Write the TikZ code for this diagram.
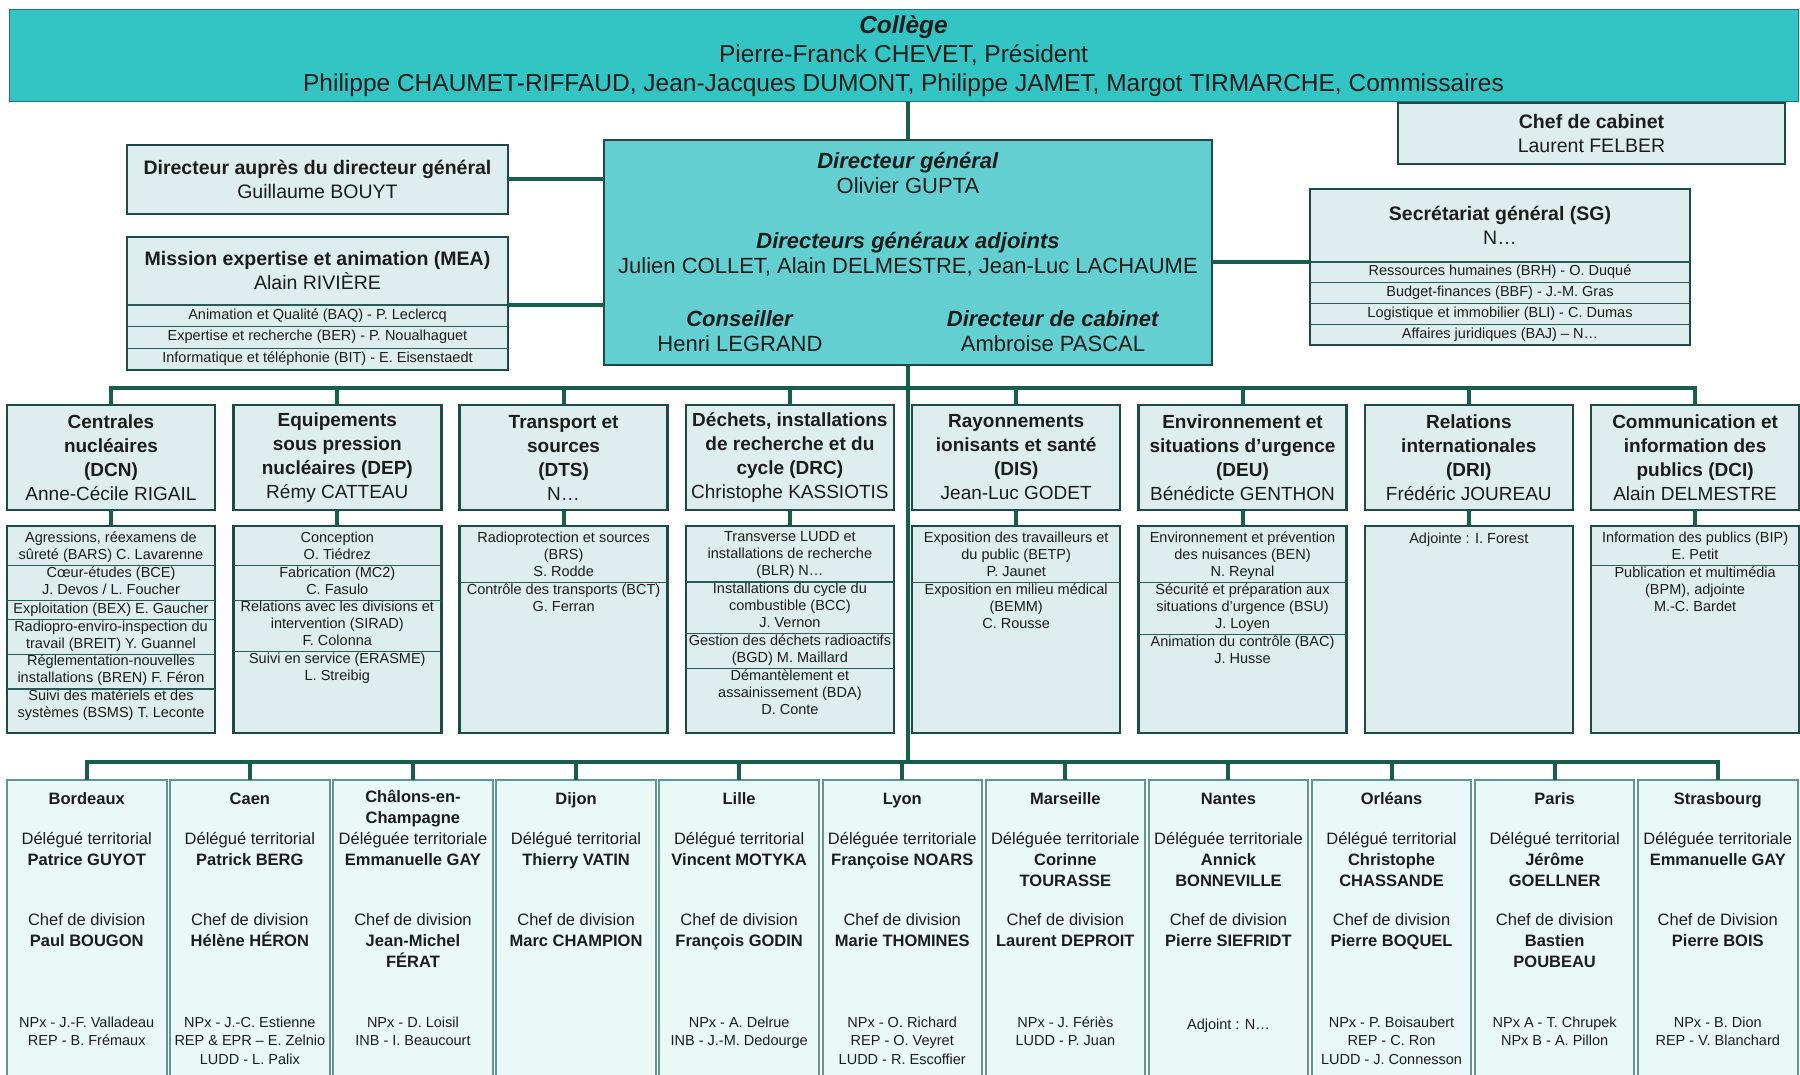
\documentclass[tikz,border=0pt]{standalone}
\usepackage{fontspec}
\setmainfont{Liberation Sans}
\usetikzlibrary{positioning,fit}

\definecolor{collegefill}{RGB}{51,197,196}
\definecolor{collegeedge}{RGB}{30,120,118}
\definecolor{dgfill}{RGB}{100,207,208}
\definecolor{boxfill}{RGB}{222,237,237}
\definecolor{boxedge}{RGB}{30,74,72}
\definecolor{rowrule}{RGB}{40,90,86}
\definecolor{linkgreen}{RGB}{24,94,78}
\definecolor{townfill}{RGB}{234,248,248}
\definecolor{townedge}{RGB}{96,150,148}
\definecolor{ink}{RGB}{28,28,28}

\begin{document}
\begin{tikzpicture}[
	x = 1pt, y = -1pt, % picture coordinates in pixels of the chart
	conn/.style={draw=linkgreen, line width=4pt},
	box/.style={draw=boxedge, line width=2.5pt, fill=boxfill, anchor=north west, inner sep=0pt, outer sep=0pt, align=center, text=ink},
	mid/.style={font=\fontsize{19.5}{24}\selectfont},
	dgtext/.style={align=center, inner sep=0pt, text=ink, font=\fontsize{22}{25.5}\selectfont, execute at begin node=\strut},
	strip/.style={box, draw=rowrule, line width=1.2pt, font=\fontsize{14.5}{17}\selectfont, execute at begin node=\strut},
	frame/.style={draw=boxedge, line width=2.5pt, inner sep=0pt},
	head/.style={box, minimum width=208, minimum height=105, font=\bfseries\fontsize{19}{24}\selectfont},
	list/.style={box, minimum width=208, minimum height=207},
	row/.style={minimum width=208, inner xsep=0pt, inner ysep=1pt, outer sep=0pt, align=center, text=ink, font=\fontsize{14.5}{17}\selectfont, execute at begin node=\strut, execute at end node=\strut},
	cut/.style={append after command={(\tikzlastnode.south west) edge[draw=rowrule, line width=1.2pt] (\tikzlastnode.south east)}},
	town/.style={draw=townedge, line width=2pt, fill=townfill, anchor=north west, inner sep=0pt, outer sep=0pt, minimum width=159.5, minimum height=320},
	tline/.style={align=center, inner sep=0pt, text=ink, font=\fontsize{16.5}{21}\selectfont, execute at begin node=\strut},
	tnote/.style={tline, font=\fontsize{14.5}{18.5}\selectfont},
	]

	\useasboundingbox (0,0) rectangle (1800,1075);
	\fill[white] (0,0) rectangle (1800,1075);

	% College and direction
	\node[box, fill=collegefill, draw=collegeedge, line width=1pt, minimum width=1789, minimum height=92, font=\fontsize{24.5}{29}\selectfont] (college) at (9,10)
		{\textbf{\textit{Collège}}\\Pierre-Franck CHEVET, Président\\Philippe CHAUMET-RIFFAUD, Jean-Jacques DUMONT, Philippe JAMET, Margot TIRMARCHE, Commissaires};
	\node[box, mid, minimum width=387, minimum height=61] (cab) at (1398,103) {\textbf{Chef de cabinet}\\Laurent FELBER};
	\node[box, fill=dgfill, minimum width=608, minimum height=225] (dg) at (604,140) {};
	\node[dgtext, below=12pt of dg.north] (dgnames) {\textbf{\textit{Directeur général}}\\Olivier GUPTA\\[29pt]\textbf{\textit{Directeurs généraux adjoints}}\\Julien COLLET, Alain DELMESTRE, Jean-Luc LACHAUME};
	\node[dgtext, anchor=north] (cons) at (740,310) {\textbf{\textit{Conseiller}}\\Henri LEGRAND};
	\node[dgtext, anchor=north] (dircab) at (1053,310) {\textbf{\textit{Directeur de cabinet}}\\Ambroise PASCAL};

	% Boxes beside the direction
	\node[box, mid, minimum width=381, minimum height=69] (dad) at (127,145) {\textbf{Directeur auprès du directeur général}\\Guillaume BOUYT};
	\node[box, mid, minimum width=381, minimum height=68] (mea) at (127,237) {\textbf{Mission expertise et animation (MEA)}\\Alain RIVIÈRE};
	\node[strip, minimum width=381, minimum height=21.7, below=0pt of mea] (mea1) {Animation et Qualité (BAQ) - P. Leclercq};
	\node[strip, minimum width=381, minimum height=21.7, below=0pt of mea1] (mea2) {Expertise et recherche (BER) - P. Noualhaguet};
	\node[strip, minimum width=381, minimum height=21.7, below=0pt of mea2] (mea3) {Informatique et téléphonie (BIT) - E. Eisenstaedt};
	\node[frame, fit=(mea)(mea3)] (meaframe) {};

	\node[box, mid, minimum width=380, minimum height=73] (sg) at (1310,189) {\textbf{Secrétariat général (SG)}\\N…};
	\node[strip, minimum width=380, minimum height=20.75, below=0pt of sg] (sg1) {Ressources humaines (BRH) - O. Duqué};
	\node[strip, minimum width=380, minimum height=20.75, below=0pt of sg1] (sg2) {Budget-finances (BBF) - J.-M. Gras};
	\node[strip, minimum width=380, minimum height=20.75, below=0pt of sg2] (sg3) {Logistique et immobilier (BLI) - C. Dumas};
	\node[strip, minimum width=380, minimum height=20.75, below=0pt of sg3] (sg4) {Affaires juridiques (BAJ) – N…};
	\node[frame, fit=(sg)(sg4)] (sgframe) {};

	\draw[conn] (dg.north) -- (dg.north |- college.south);
	\draw[conn] (dg.west |- dad.east) -- (dad.east);
	\draw[conn] (dg.west |- mea.south) -- (mea.south east);
	\draw[conn] (dg.east |- sg.south) -- (sg.south west);

	% Directions
	\node[head] (dcn) at (7,405) {Centrales\\nucléaires\\(DCN)\\\textmd{Anne-Cécile RIGAIL}};
	\node[head, right=18.3pt of dcn] (dep) {Equipements\\sous pression\\nucléaires (DEP)\\\textmd{Rémy CATTEAU}};
	\node[head, right=18.3pt of dep] (dts) {Transport et\\sources\\(DTS)\\\textmd{N…}};
	\node[head, right=18.3pt of dts] (drc) {Déchets, installations\\de recherche et du\\cycle (DRC)\\\textmd{Christophe KASSIOTIS}};
	\node[head, right=18.3pt of drc] (dis) {Rayonnements\\ionisants et santé\\(DIS)\\\textmd{Jean-Luc GODET}};
	\node[head, right=18.3pt of dis] (deu) {Environnement et\\situations d’urgence\\(DEU)\\\textmd{Bénédicte GENTHON}};
	\node[head, right=18.3pt of deu] (dri) {Relations\\internationales\\(DRI)\\\textmd{Frédéric JOUREAU}};
	\node[head, right=18.3pt of dri] (dci) {Communication et\\information des\\publics (DCI)\\\textmd{Alain DELMESTRE}};

	\node[list, below=16pt of dcn] (dcnb) {};
	\node[list, below=16pt of dep] (depb) {};
	\node[list, below=16pt of dts] (dtsb) {};
	\node[list, below=16pt of drc] (drcb) {};
	\node[list, below=16pt of dis] (disb) {};
	\node[list, below=16pt of deu] (deub) {};
	\node[list, below=16pt of dri] (drib) {};
	\node[list, below=16pt of dci] (dcib) {};

	% Offices of each direction
	\node[row, cut, below=5pt of dcnb.north] (dcn1) {Agressions, réexamens de\\sûreté (BARS) C. Lavarenne};
	\node[row, cut, below=0pt of dcn1] (dcn2) {Cœur-études (BCE)\\J. Devos / L. Foucher};
	\node[row, cut, below=0pt of dcn2] (dcn3) {Exploitation (BEX) E. Gaucher};
	\node[row, cut, below=0pt of dcn3] (dcn4) {Radiopro-enviro-inspection du\\travail (BREIT) Y. Guannel};
	\node[row, cut, below=0pt of dcn4] (dcn5) {Réglementation-nouvelles\\installations (BREN) F. Féron};
	\node[row, below=0pt of dcn5] (dcn6) {Suivi des matériels et des\\systèmes (BSMS) T. Leconte};

	\node[row, cut, below=5pt of depb.north] (dep1) {Conception\\O. Tiédrez};
	\node[row, cut, below=0pt of dep1] (dep2) {Fabrication (MC2)\\C. Fasulo};
	\node[row, cut, below=0pt of dep2] (dep3) {Relations avec les divisions et\\intervention (SIRAD)\\F. Colonna};
	\node[row, below=0pt of dep3] (dep4) {Suivi en service (ERASME)\\L. Streibig};

	\node[row, cut, below=5pt of dtsb.north] (dts1) {Radioprotection et sources\\(BRS)\\S. Rodde};
	\node[row, below=0pt of dts1] (dts2) {Contrôle des transports (BCT)\\G. Ferran};

	\node[row, cut, below=5pt of drcb.north] (drc1) {Transverse LUDD et\\installations de recherche\\(BLR) N…};
	\node[row, cut, below=0pt of drc1] (drc2) {Installations du cycle du\\combustible (BCC)\\J. Vernon};
	\node[row, cut, below=0pt of drc2] (drc3) {Gestion des déchets radioactifs\\(BGD) M. Maillard};
	\node[row, below=0pt of drc3] (drc4) {Démantèlement et\\assainissement (BDA)\\D. Conte};

	\node[row, cut, below=5pt of disb.north] (dis1) {Exposition des travailleurs et\\du public (BETP)\\P. Jaunet};
	\node[row, below=0pt of dis1] (dis2) {Exposition en milieu médical\\(BEMM)\\C. Rousse};

	\node[row, cut, below=5pt of deub.north] (deu1) {Environnement et prévention\\des nuisances (BEN)\\N. Reynal};
	\node[row, cut, below=0pt of deu1] (deu2) {Sécurité et préparation aux\\situations d’urgence (BSU)\\J. Loyen};
	\node[row, below=0pt of deu2] (deu3) {Animation du contrôle (BAC)\\J. Husse};

	\node[row, below=5pt of drib.north] (dri1) {Adjointe : I. Forest};

	\node[row, cut, below=5pt of dcib.north] (dci1) {Information des publics (BIP)\\E. Petit};
	\node[row, below=0pt of dci1] (dci2) {Publication et multimédia\\(BPM), adjointe\\M.-C. Bardet};

	\coordinate (bus1) at (0,388);
	\draw[conn] (dg.south) -- (dg.south |- bus1);
	\draw[conn] (dcn.north) -- (dcn.north |- bus1) -- (dci.north |- bus1) -- (dci.north);
	\draw[conn] (dep.north) -- (dep.north |- bus1);
	\draw[conn] (dts.north) -- (dts.north |- bus1);
	\draw[conn] (drc.north) -- (drc.north |- bus1);
	\draw[conn] (dis.north) -- (dis.north |- bus1);
	\draw[conn] (deu.north) -- (deu.north |- bus1);
	\draw[conn] (dri.north) -- (dri.north |- bus1);
	\draw[conn] (dcn) -- (dcnb);
	\draw[conn] (dep) -- (depb);
	\draw[conn] (dts) -- (dtsb);
	\draw[conn] (drc) -- (drcb);
	\draw[conn] (dis) -- (disb);
	\draw[conn] (deu) -- (deub);
	\draw[conn] (dri) -- (drib);
	\draw[conn] (dci) -- (dcib);

	% Regional divisions
	\node[town] (bdx) at (7,780) {};
	\node[town, right=3.6pt of bdx] (cae) {};
	\node[town, right=3.6pt of cae] (cha) {};
	\node[town, right=3.6pt of cha] (dij) {};
	\node[town, right=3.6pt of dij] (lil) {};
	\node[town, right=3.6pt of lil] (lyo) {};
	\node[town, right=3.6pt of lyo] (mar) {};
	\node[town, right=3.6pt of mar] (nan) {};
	\node[town, right=3.6pt of nan] (orl) {};
	\node[town, right=3.6pt of orl] (par) {};
	\node[town, right=3.6pt of par] (sxb) {};

	\node[tline, below=9.8pt of bdx.north] (bdx-c) {\textbf{Bordeaux}};
	\node[tline, below=51.8pt of bdx.north] (bdx-d) {Délégué territorial\\\textbf{Patrice GUYOT}};
	\node[tline, below=133.8pt of bdx.north] (bdx-h) {Chef de division\\\textbf{Paul BOUGON}};
	\node[tnote, below=236.3pt of bdx.north] (bdx-n) {NPx - J.-F. Valladeau\\REP - B. Frémaux};

	\node[tline, below=9.8pt of cae.north] (cae-c) {\textbf{Caen}};
	\node[tline, below=51.8pt of cae.north] (cae-d) {Délégué territorial\\\textbf{Patrick BERG}};
	\node[tline, below=133.8pt of cae.north] (cae-h) {Chef de division\\\textbf{Hélène HÉRON}};
	\node[tnote, below=236.3pt of cae.north] (cae-n) {NPx - J.-C. Estienne\\REP \& EPR – E. Zelnio\\LUDD - L. Palix};

	\node[tline, below=9.8pt of cha.north] (cha-c) {\textbf{Châlons-en-}\\\textbf{Champagne}};
	\node[tline, below=51.8pt of cha.north] (cha-d) {Déléguée territoriale\\\textbf{Emmanuelle GAY}};
	\node[tline, below=133.8pt of cha.north] (cha-h) {Chef de division\\\textbf{Jean-Michel}\\\textbf{FÉRAT}};
	\node[tnote, below=236.3pt of cha.north] (cha-n) {NPx - D. Loisil\\INB - I. Beaucourt};

	\node[tline, below=9.8pt of dij.north] (dij-c) {\textbf{Dijon}};
	\node[tline, below=51.8pt of dij.north] (dij-d) {Délégué territorial\\\textbf{Thierry VATIN}};
	\node[tline, below=133.8pt of dij.north] (dij-h) {Chef de division\\\textbf{Marc CHAMPION}};

	\node[tline, below=9.8pt of lil.north] (lil-c) {\textbf{Lille}};
	\node[tline, below=51.8pt of lil.north] (lil-d) {Délégué territorial\\\textbf{Vincent MOTYKA}};
	\node[tline, below=133.8pt of lil.north] (lil-h) {Chef de division\\\textbf{François GODIN}};
	\node[tnote, below=236.3pt of lil.north] (lil-n) {NPx - A. Delrue\\INB - J.-M. Dedourge};

	\node[tline, below=9.8pt of lyo.north] (lyo-c) {\textbf{Lyon}};
	\node[tline, below=51.8pt of lyo.north] (lyo-d) {Déléguée territoriale\\\textbf{Françoise NOARS}};
	\node[tline, below=133.8pt of lyo.north] (lyo-h) {Chef de division\\\textbf{Marie THOMINES}};
	\node[tnote, below=236.3pt of lyo.north] (lyo-n) {NPx - O. Richard\\REP - O. Veyret\\LUDD - R. Escoffier};

	\node[tline, below=9.8pt of mar.north] (mar-c) {\textbf{Marseille}};
	\node[tline, below=51.8pt of mar.north] (mar-d) {Déléguée territoriale\\\textbf{Corinne}\\\textbf{TOURASSE}};
	\node[tline, below=133.8pt of mar.north] (mar-h) {Chef de division\\\textbf{Laurent DEPROIT}};
	\node[tnote, below=236.3pt of mar.north] (mar-n) {NPx - J. Fériès\\LUDD - P. Juan};

	\node[tline, below=9.8pt of nan.north] (nan-c) {\textbf{Nantes}};
	\node[tline, below=51.8pt of nan.north] (nan-d) {Déléguée territoriale\\\textbf{Annick}\\\textbf{BONNEVILLE}};
	\node[tline, below=133.8pt of nan.north] (nan-h) {Chef de division\\\textbf{Pierre SIEFRIDT}};
	\node[tnote, below=236.3pt of nan.north] (nan-n) {Adjoint : N…};

	\node[tline, below=9.8pt of orl.north] (orl-c) {\textbf{Orléans}};
	\node[tline, below=51.8pt of orl.north] (orl-d) {Délégué territorial\\\textbf{Christophe}\\\textbf{CHASSANDE}};
	\node[tline, below=133.8pt of orl.north] (orl-h) {Chef de division\\\textbf{Pierre BOQUEL}};
	\node[tnote, below=236.3pt of orl.north] (orl-n) {NPx - P. Boisaubert\\REP - C. Ron\\LUDD - J. Connesson};

	\node[tline, below=9.8pt of par.north] (par-c) {\textbf{Paris}};
	\node[tline, below=51.8pt of par.north] (par-d) {Délégué territorial\\\textbf{Jérôme}\\\textbf{GOELLNER}};
	\node[tline, below=133.8pt of par.north] (par-h) {Chef de division\\\textbf{Bastien}\\\textbf{POUBEAU}};
	\node[tnote, below=236.3pt of par.north] (par-n) {NPx A - T. Chrupek\\NPx B - A. Pillon};

	\node[tline, below=9.8pt of sxb.north] (sxb-c) {\textbf{Strasbourg}};
	\node[tline, below=51.8pt of sxb.north] (sxb-d) {Déléguée territoriale\\\textbf{Emmanuelle GAY}};
	\node[tline, below=133.8pt of sxb.north] (sxb-h) {Chef de Division\\\textbf{Pierre BOIS}};
	\node[tnote, below=236.3pt of sxb.north] (sxb-n) {NPx - B. Dion\\REP - V. Blanchard};

	\coordinate (bus2) at (0,762);
	\draw[conn] (dg.south |- bus1) -- (dg.south |- bus2);
	\draw[conn] (bdx.north) -- (bdx.north |- bus2) -- (sxb.north |- bus2) -- (sxb.north);
	\draw[conn] (cae.north) -- (cae.north |- bus2);
	\draw[conn] (cha.north) -- (cha.north |- bus2);
	\draw[conn] (dij.north) -- (dij.north |- bus2);
	\draw[conn] (lil.north) -- (lil.north |- bus2);
	\draw[conn] (lyo.north) -- (lyo.north |- bus2);
	\draw[conn] (mar.north) -- (mar.north |- bus2);
	\draw[conn] (nan.north) -- (nan.north |- bus2);
	\draw[conn] (orl.north) -- (orl.north |- bus2);
	\draw[conn] (par.north) -- (par.north |- bus2);

\end{tikzpicture}
\end{document}
